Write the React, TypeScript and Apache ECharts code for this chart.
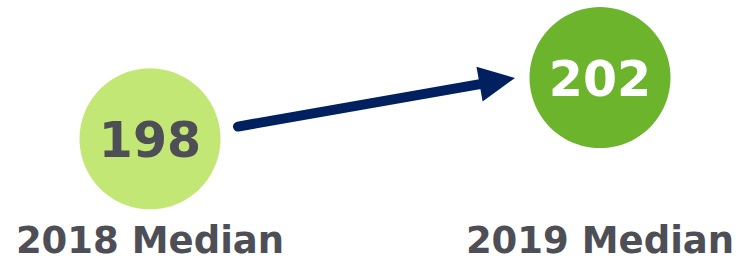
import React, { useEffect, useRef } from "react";
import * as echarts from "echarts";

const categories = ["2018 Median", "2019 Median"];
const medians = [198, 202];
const circleColors = ["#c3e774", "#6cb42c"];
const labelColors = ["#4d4e56", "#ffffff"];

export default function App() {
  const ref = useRef<HTMLDivElement>(null);
  useEffect(() => {
    if (!ref.current) return;
    const chart = echarts.init(ref.current, null, { renderer: "svg" });
    chart.setOption({
      animation: false,
      grid: { left: 150, right: 143, top: 47, bottom: 88 },
      xAxis: {
        type: "category",
        data: categories,
        boundaryGap: false,
        axisLine: { show: false },
        axisTick: { show: false },
        splitLine: { show: false },
        axisLabel: {
          margin: 58,
          fontFamily: "DejaVu Sans",
          fontWeight: "bold",
          fontSize: 37,
          color: "#4d4e56",
          lineHeight: 26,
        },
      },
      yAxis: {
        type: "value",
        min: 196,
        max: 204,
        show: false,
        splitLine: { show: false },
      },
      series: [
        {
          type: "scatter",
          symbol: "circle",
          symbolSize: 141,
          data: medians.map((v, i) => ({
            value: [categories[i], v],
            itemStyle: { color: circleColors[i], opacity: 1 },
            label: {
              show: true,
              position: "inside",
              formatter: String(v),
              fontFamily: "DejaVu Sans",
              fontWeight: "bold",
              fontSize: 49,
              color: labelColors[i],
              offset: [0, 2],
            },
          })),
          emphasis: { disabled: true },
        },
      ],
    });
    const p0 = chart.convertToPixel({ seriesIndex: 0 }, [categories[0], medians[0]]) as number[];
    const p1 = chart.convertToPixel({ seriesIndex: 0 }, [categories[1], medians[1]]) as number[];
    const sx = p0[0] + 88, sy = p0[1] - 12.3;
    const tx = p1[0] - 85, ty = p1[1] + 0.3;
    const dx = tx - sx, dy = ty - sy;
    const len = Math.sqrt(dx * dx + dy * dy);
    const ux = dx / len, uy = dy / len;
    const headLen = 36, headHalf = 17.7;
    const bx = tx - ux * headLen, by = ty - uy * headLen;
    const nx = -uy, ny = ux;
    chart.setOption({
      graphic: [
        {
          type: "line",
          shape: { x1: sx, y1: sy, x2: bx + ux * 2, y2: by + uy * 2 },
          style: { stroke: "#002060", lineWidth: 10, lineCap: "round" },
        },
        {
          type: "polygon",
          shape: {
            points: [
              [tx, ty],
              [bx + nx * headHalf, by + ny * headHalf],
              [bx - nx * headHalf, by - ny * headHalf],
            ],
          },
          style: { fill: "#002060" },
        },
      ],
    });
    return () => chart.dispose();
  }, []);
  return <div ref={ref} style={{ width: 743, height: 259, position: "absolute", left: 0, top: 0 }} />;
}
